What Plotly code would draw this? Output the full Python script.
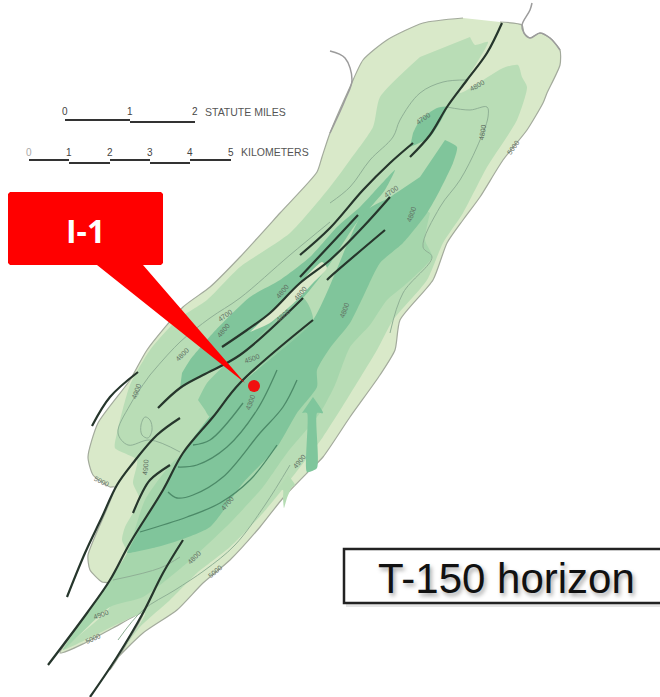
import plotly.graph_objects as go

# Map regions in map units (image pixels)
outer_x = [500,522,524,530,540,550,560,560,547,543,527,503,480,463,447,433,400,395,380,350,323,307,283,260,230,203,177,143,113,110,143,113,85,60,108,102,90,88,115,110,93,88,98,130,147,183,210,240,280,317,322,330,350,363,387,423,463]
outer_y = [22,25,33,38,33,38,50,65,93,103,130,160,197,220,243,280,320,350,375,417,457,473,498,527,560,583,610,633,663,670,613,628,643,653,583,582,570,555,487,487,475,457,423,380,350,307,287,257,213,172,157,133,87,60,40,23,18]
band2_x = [470,475,488,460,503,518,522,527,517,487,463,443,427,393,377,323,290,263,230,197,170,140,115,145,63,110,110,127,122,125,133,140,133,137,115,117,130,150,177,207,240,290,330,350,373,380,420]
band2_y = [37,45,42,93,68,65,77,87,120,167,213,243,280,320,350,437,480,513,547,573,600,627,660,613,650,607,580,553,540,527,513,500,483,460,448,433,385,350,320,300,267,233,187,160,127,97,57]
band3_x = [430,425,432,405,387,370,350,335,320,287,263,230,187,143,110,63,110,127,145,170,183,213,257,313,385,410]
band3_y = [213,240,257,285,300,325,347,385,413,453,487,523,563,597,607,650,580,553,500,465,453,417,370,320,232,200]
body_x = [445,457,453,440,427,403,380,363,350,330,317,317,297,277,243,210,180,157,127,128,143,163,183,207,237,257,313,363,390,420]
body_y = [140,147,163,190,213,243,263,297,323,348,370,387,413,447,483,527,540,547,553,551,523,490,453,420,387,370,320,213,197,177]
west_a_x = [182,190,213,250,280,310,337,360,385,395,385,355,327,303,240,203,180]
west_a_y = [373,360,333,297,280,257,227,207,180,170,190,225,268,298,355,375,388]
west_b_x = [198,207,225,240,303,313,240,210,205]
west_b_y = [400,383,365,355,298,320,383,417,410]
patch_x = [413,420,437,447,430,410]
patch_y = [133,120,108,107,137,147]
lens_x = [250,270,297,313,327,322,300,270]
lens_y = [332,323,300,283,268,262,283,313]
arrow_x = [313,323,317,317,307,307,302]
arrow_y = [397,413,413,468,472,413,413]
arrow2_x = [288,295,292,287,284,283,283,277]
arrow2_y = [475,485,487,498,508,498,490,490]

# Faults
fault_a_x = [502,487,467,447,430,410]; fault_a_y = [23,53,80,107,135,157]
fault_b_x = [413,390,363,330,300]; fault_b_y = [143,163,190,228,255]
fault_c_x = [358,330,300]; fault_c_y = [215,245,277]
fault_d_x = [390,363,330,300,270,247,222]; fault_d_y = [197,227,260,283,313,330,347]
fault_e_x = [385,330,327]; fault_e_y = [230,277,280]
fault_f_x = [303,240,203,180,158]; fault_f_y = [298,355,375,388,408]
fault_g_x = [313,240,213,183,163,130,110,87,48]; fault_g_y = [320,383,417,453,490,543,580,613,665]
fault_h_x = [138,110,92]; fault_h_y = [372,397,426]
fault_i_x = [180,157,133,117,102,85,67]; fault_i_y = [418,435,463,485,517,553,597]
fault_j_x = [170,150,142,133]; fault_j_y = [465,480,493,513]
fault_k_x = [183,163,143,117,90]; fault_k_y = [540,573,613,657,697]

# Dark and thin contours
dark1_x = [297,283,260,223,193,177,168]; dark1_y = [380,407,433,477,495,498,492]
dark2_x = [277,257,227,197,178]; dark2_y = [370,410,447,465,467]
dark3_x = [243,210,193]; dark3_y = [403,440,445]
dark4_x = [277,250,220,187,140]; dark4_y = [445,480,503,517,532]
thin1_x = [467,443,420,400,393,370,350,330]; thin1_y = [80,82,93,120,137,160,187,203]
thin2_x = [447,470,487,488,477,460,440,423,432,403,390]; thin2_y = [107,110,107,117,147,180,207,247,257,293,333]
thin3_x = [330,290,240,210,180,150]; thin3_y = [222,255,298,318,342,375]
thin4_x = [290,265,235,205,175,143,118]; thin4_y = [465,505,545,570,590,610,640]
thin5_x = [150,130,118,128,150,180]; thin5_y = [375,405,433,445,440,452]
thin6_x = [113,160,180]; thin6_y = [580,568,557]
blob_x = [145,150,152,148,142,141,145]; blob_y = [417,420,430,438,435,425,417]

# Contour label text
label_text = ["4800","4700","4800","5000","4700","4800","4800","4800","4800","4800","4700","4800","4800","4500","4300","4900","4900","5000","4700","4900","4800","5000","4900","5000"]
label_x = [477,423,482,513,391,411,344,282,300,283,225,223,182,252,250,136,145,102,227,299,194,215,101,93]
label_y = [85,118,132,147,191,214,310,291,293,315,315,330,354,358,402,391,467,481,503,461,557,571,614,638]
label_a = [-30,-35,-80,-55,-35,-70,-70,-50,-50,-40,-35,-50,-45,-20,-70,-70,-85,25,-50,-50,-45,-40,-20,-25]

# Scale bars
mile_ticks = ["0","1","2"]; mile_x = [65,130,195]
km_ticks = ["0","1","2","3","4","5"]; km_x = [29,69,110,150,190,231]
km_colors = ["#aaaaaa"] + ["#444444"] * 5

# Callout
box_x = [10,161,163,163,161,143,245,97,10,8,8]
box_y = [192,192,194,263,265,265,383,265,265,263,194]
well_x = [254]; well_y = [386]

fig = go.Figure()

def area(x, y, color, line=None):
    fig.add_trace(go.Scatter(x=x, y=y, mode="lines", fill="toself", fillcolor=color,
                             line=dict(color=line or color, width=1.2 if line else 0, shape="spline", smoothing=0.6),
                             hoverinfo="skip"))

def path(x, y, color, width, shape="spline"):
    fig.add_trace(go.Scatter(x=x, y=y, mode="lines", line=dict(color=color, width=width, shape=shape),
                             hoverinfo="skip"))

area(outer_x, outer_y, "#d9e9c9", "#a3aa9c")
area(band2_x, band2_y, "#b9ddb6")
area(band3_x, band3_y, "#a6d6ac")
area(body_x, body_y, "#80c59b")
area(west_a_x, west_a_y, "#80c59b")
area(west_b_x, west_b_y, "#8fcca2")
area(patch_x, patch_y, "#80c59b")
area(lens_x, lens_y, "#dbe9ca")
area(arrow_x, arrow_y, "#7fc69c")
area(arrow2_x, arrow2_y, "#b5dcb3")

# Coast lines
path([330,345,352,345,330], [133,100,80,58,51], "#9c9c9c", 1.5)
path([532,530,522,524,530,540,550,560], [3,10,25,33,38,33,38,50], "#9c9c9c", 1.5)

for x, y in [(thin1_x, thin1_y), (thin2_x, thin2_y), (thin3_x, thin3_y), (thin4_x, thin4_y), (thin5_x, thin5_y), (thin6_x, thin6_y), (blob_x, blob_y)]:
    path(x, y, "#8fb095", 1)
for x, y in [(dark1_x, dark1_y), (dark2_x, dark2_y), (dark3_x, dark3_y), (dark4_x, dark4_y)]:
    path(x, y, "#4c8a68", 1.3)

for x, y in [(fault_a_x, fault_a_y), (fault_b_x, fault_b_y), (fault_c_x, fault_c_y), (fault_d_x, fault_d_y),
             (fault_e_x, fault_e_y), (fault_f_x, fault_f_y), (fault_g_x, fault_g_y), (fault_h_x, fault_h_y),
             (fault_i_x, fault_i_y), (fault_j_x, fault_j_y), (fault_k_x, fault_k_y)]:
    path(x, y, "#26362c", 2.2)

# Scale bars
for i in range(len(mile_x) - 1):
    yy = 120 + 2 * i
    path(mile_x[i:i+2], [yy, yy], "#333333", 2, "linear")
for i in range(len(km_x) - 1):
    yy = 160 + 3 * (i % 2)
    path(km_x[i:i+2], [yy, yy], "#333333", 2, "linear")

# Callout
fig.add_trace(go.Scatter(x=box_x, y=box_y, mode="lines", fill="toself", fillcolor="#ff0000",
                         line=dict(color="#ff0000", width=0), hoverinfo="skip"))
fig.add_trace(go.Scatter(x=well_x, y=well_y, mode="markers",
                         marker=dict(color="#f01010", size=12), hoverinfo="skip"))

fig.add_shape(type="rect", x0=346, x1=668, y0=551, y1=607, line=dict(width=0), fillcolor="rgba(0,0,0,0.10)")
fig.add_shape(type="rect", x0=344, x1=664, y0=549, y1=603, line=dict(color="#222222", width=2.5), fillcolor="#ffffff")

annotations = []
for t, x, y, a in zip(label_text, label_x, label_y, label_a):
    annotations.append(dict(x=x, y=y, text=t, textangle=a, showarrow=False,
                            font=dict(size=7, color="#5f6f62", family="Liberation Sans")))
for t, x in zip(mile_ticks, mile_x):
    annotations.append(dict(x=x, y=111, text=t, showarrow=False, font=dict(size=10, color="#444444", family="Liberation Sans")))
for t, x, c in zip(km_ticks, km_x, km_colors):
    annotations.append(dict(x=x, y=152, text=t, showarrow=False, font=dict(size=10, color=c, family="Liberation Sans")))
annotations.append(dict(x=203, y=111.5, xanchor="left", text="STATUTE MILES", showarrow=False, font=dict(size=10.5, color="#555555", family="Liberation Sans")))
annotations.append(dict(x=239, y=152, xanchor="left", text="KILOMETERS", showarrow=False, font=dict(size=10.5, color="#555555", family="Liberation Sans")))
annotations.append(dict(x=85, y=230, text="<b>I-1</b>", showarrow=False, font=dict(size=32, color="#ffffff", family="Open Sans")))
annotations.append(dict(x=506, y=578, text="T-150 horizon", showarrow=False,
                        font=dict(size=42, color="#111111", family="Liberation Sans", shadow="2px 3px 4px rgba(0,0,0,0.35)")))

fig.update_layout(width=660, height=697, margin=dict(l=0, r=0, t=0, b=0), showlegend=False,
                  paper_bgcolor="#ffffff", plot_bgcolor="#ffffff", annotations=annotations,
                  xaxis=dict(range=[0, 660], visible=False, fixedrange=True),
                  yaxis=dict(range=[697, 0], visible=False, fixedrange=True))
fig.write_html("out.html", config=dict(displayModeBar=False),
               post_script="document.body.style.margin='0';document.documentElement.style.overflow='hidden';")
